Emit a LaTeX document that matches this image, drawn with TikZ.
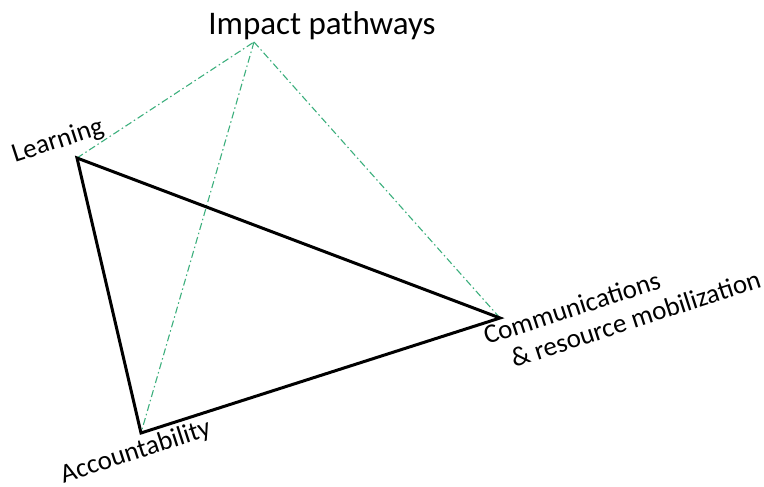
\documentclass[tikz,border=0pt]{standalone}
\usepackage{fontspec}
\setmainfont{Carlito}
\definecolor{pathgreen}{RGB}{60,175,125}

\begin{document}
\begin{tikzpicture}
    [x=1pt, y=-1pt,
    SideLine/.style={draw=black, line width=3pt, line join=miter},
    PathLine/.style={draw=pathgreen, line width=1.1pt, dash pattern=on 7pt off 3pt on 1.5pt off 3pt},
    CornerLabel/.style={inner sep=0pt, rotate=18, font=\fontsize{27}{30}\selectfont}]
    \useasboundingbox (0, 0) rectangle (764, 487);
    \coordinate (learn) at (77, 158);
    \coordinate (comm) at (500, 318);
    \coordinate (acc) at (141, 433);
    \coordinate (apex) at (254, 42);
    \node[inner sep=0pt, anchor=base, font=\fontsize{33}{36}\selectfont] (title) at (322, 35){Impact pathways};
    \draw[PathLine] (learn) -- (apex);
    \draw[PathLine] (apex) -- (acc);
    \draw[PathLine] (apex) -- (comm);
    \draw[SideLine] (learn) -- (comm) -- (acc) -- cycle;
    \node[CornerLabel, anchor=base] (learnlabel) at (60, 148){Learning};
    \node[CornerLabel, anchor=base] (acclabel) at (138, 459){Accountability};
    \node[CornerLabel, anchor=north west, align=left] (commlabel) at (481, 327){Communications\\ \hspace*{0.7em}\& resource mobilization};
\end{tikzpicture}
\end{document}
